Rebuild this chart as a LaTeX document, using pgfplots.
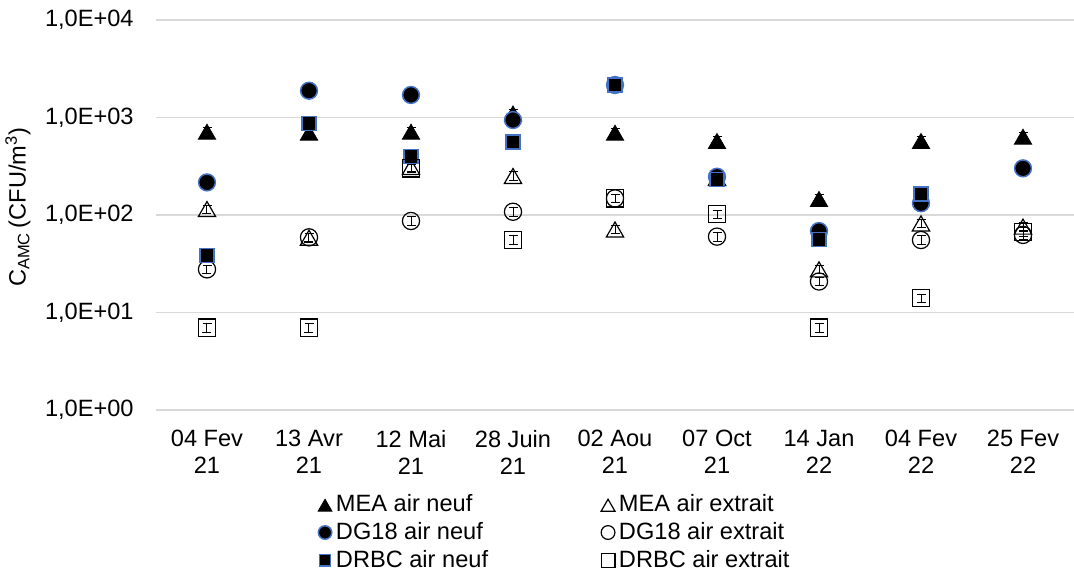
\documentclass[border=0pt]{standalone}
\usepackage{fontspec}
\setmainfont{Liberation Sans}
\usepackage{pgfplots}
\pgfplotsset{compat=1.18}
\definecolor{gridgray}{RGB}{217,217,217}
\definecolor{xlblue}{RGB}{68,114,196}
\newcommand{\lblfont}{\fontsize{11.8}{13.35}\selectfont}
\begin{document}
\begin{tikzpicture}
\path[use as bounding box] (-78pt,-81.5pt) rectangle (459pt,205pt);
\begin{axis}[
  at={(0,0)}, anchor=south west,
  scale only axis, width=459pt, height=195pt,
  xmin=-0.5, xmax=8.5,
  ymode=log, ymin=1, ymax=10000,
  xtick={0,1,2,3,4,5,6,7,8},
  xticklabels={{04 Fev\\21},{13 Avr\\21},{12 Mai\\21},{28 Juin\\21},{02 Aou\\21},{07 Oct\\21},{14 Jan\\22},{04 Fev\\22},{25 Fev\\22}},
  ytick={1,10,100,1000,10000},
  yticklabels={{1,0E+00},{1,0E+01},{1,0E+02},{1,0E+03},{1,0E+04}},
  minor ytick={},
  ymajorgrids, grid style={line width=0.75pt, color=gridgray},
  axis line style={draw=none},
  major tick length=0pt, minor tick length=0pt,
  tick label style={font=\lblfont},
  xticklabel style={align=center, inner sep=0pt, anchor=north, yshift=-9.9pt},
  yticklabel style={inner sep=0pt, anchor=east, xshift=-11pt},
  ylabel={C\textsubscript{AMC}\,(CFU/m\textsuperscript{3})},
  ylabel style={at={(axis description cs:-0.1503,0.52)}, anchor=center, font=\lblfont, inner sep=0pt},
  legend columns=2,
  legend cell align=left,
  legend image code/.code={\draw[#1, every mark/.append style={scale=0.8}] plot coordinates {(0pt,0pt)};},
  legend style={at={(axis description cs:0.1766,-0.2121)}, anchor=north west,
    draw=none, fill=none, inner sep=0pt, outer sep=0pt,
    nodes={inner xsep=2pt, inner ysep=0pt, text height=9.5pt, text depth=2.5pt, font=\lblfont},
    row sep=1.9pt, column sep=0pt,
    /tikz/every even column/.append style={column sep=54.5pt}},
  every axis plot/.append style={only marks,
    error bars/y dir=both, error bars/y fixed relative=0.1,
    error bars/error bar style={black, line width=0.5pt},
    error bars/error mark options={rotate=90, black, mark size=2.25pt, line width=0.5pt}},
]
% MEA air neuf
\addplot[mark=triangle*, mark size=5pt, mark options={fill=black, draw=black, yshift=-1.25pt}]
  coordinates {(0,715) (1,700) (2,715) (3,1100) (4,698) (5,574) (6,146) (7,574) (8,635)};
\addlegendentry{MEA air neuf}
% MEA air extrait
\addplot[mark=triangle, mark size=5pt, mark options={draw=black, line width=0.6pt, yshift=-1.25pt}]
  coordinates {(0,115) (1,58.5) (2,310) (3,251) (4,71) (5,240) (6,27.7) (7,82) (8,76)};
\addlegendentry{MEA air extrait}
% DG18 air neuf
\addplot[mark=*, mark size=4.2pt, mark options={fill=black, draw=xlblue, line width=0.75pt}]
  coordinates {(0,216) (1,1883) (2,1702) (3,942) (4,2154) (5,247) (6,68.5) (7,132) (8,301)};
\addlegendentry{DG18 air neuf}
% DG18 air extrait
\addplot[mark=o, mark size=4.3pt, mark options={draw=black, line width=0.6pt}]
  coordinates {(0,27.7) (1,59) (2,86.8) (3,108) (4,148) (5,60) (6,20.8) (7,55.4) (8,62.5)};
\addlegendentry{DG18 air extrait}
% DRBC air neuf
\addplot[mark=square*, mark size=3.5pt, mark options={fill=black, draw=xlblue, line width=0.75pt}]
  coordinates {(0,38.6) (1,864) (2,400) (3,561) (4,2145) (5,230) (6,55.8) (7,165)};
\addlegendentry{DRBC air neuf}
% DRBC air extrait
\addplot[mark=square, mark size=4.3pt, mark options={draw=black, line width=0.6pt}]
  coordinates {(0,7) (1,7) (2,300) (3,55.4) (4,148) (5,102) (6,7) (7,14) (8,67)};
\addlegendentry{DRBC air extrait}
\end{axis}
\end{tikzpicture}
\end{document}
